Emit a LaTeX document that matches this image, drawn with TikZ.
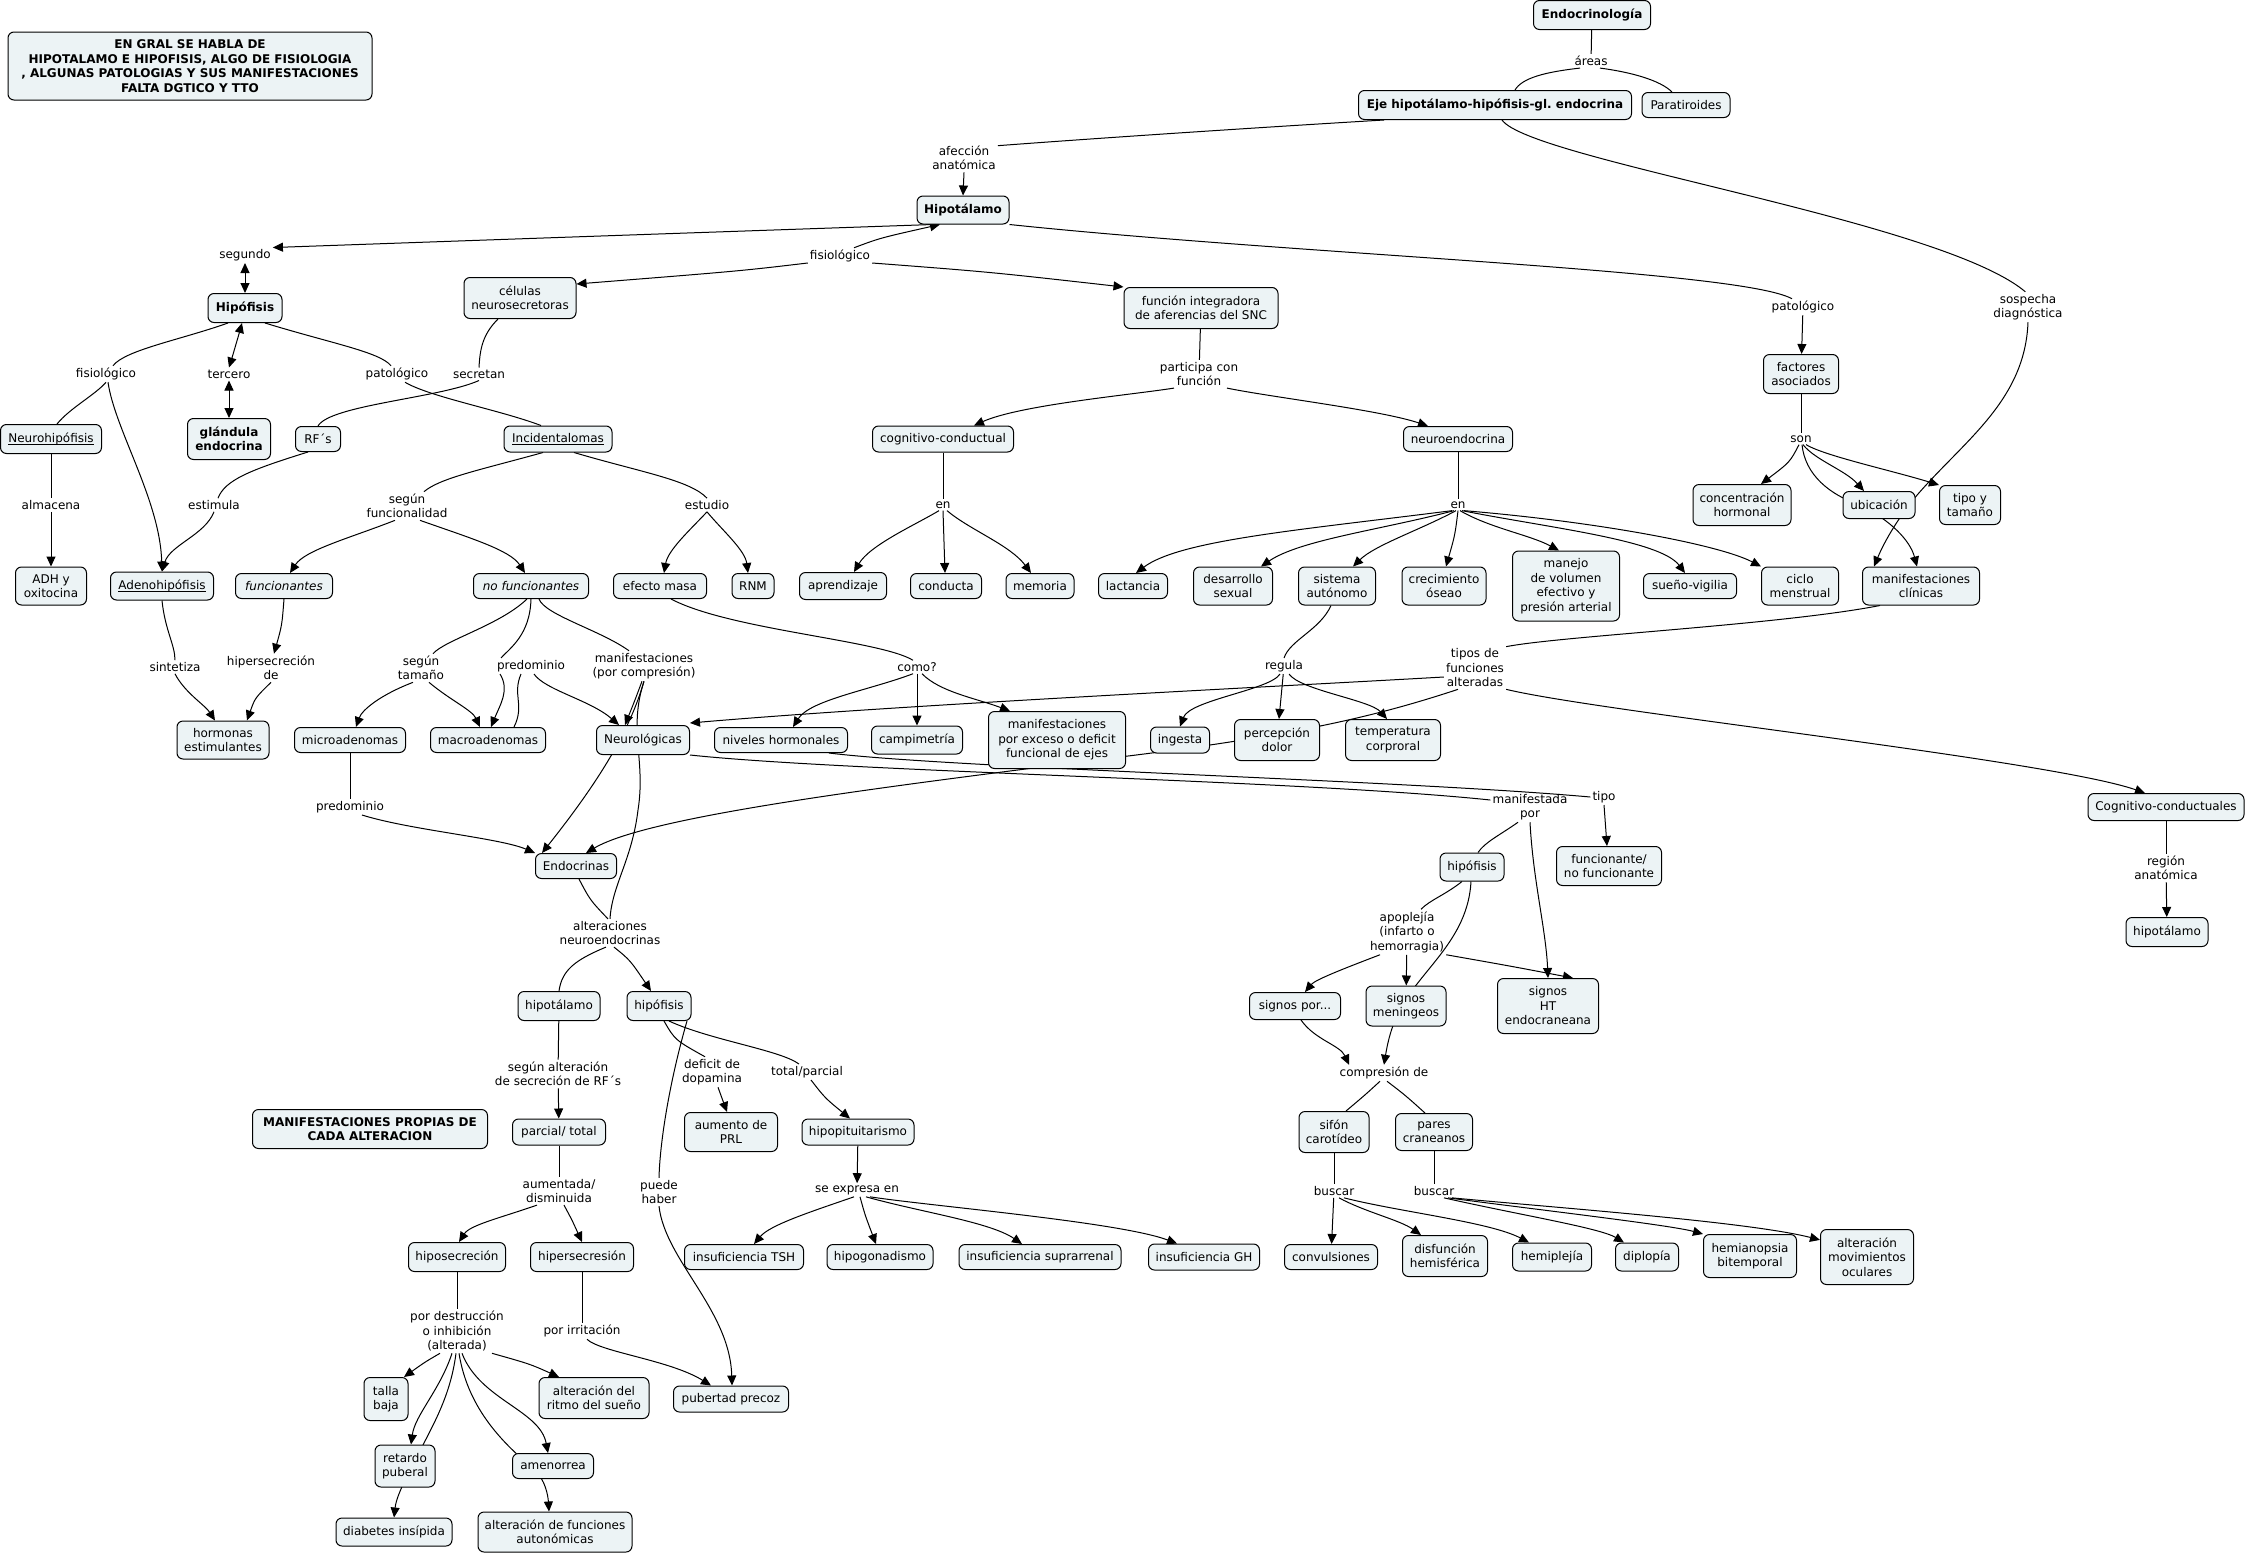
\documentclass[tikz,border=0pt]{standalone}
\usepackage{fontspec}
\setmainfont{DejaVu Sans}
\usetikzlibrary{arrows.meta,backgrounds}
\definecolor{boxfill}{RGB}{236,243,245}
\newcommand\myfs{\fontsize{12}{14.5}\selectfont}
\newcommand\myul[1]{\setbox0=\hbox{#1}\rlap{\rule[-2.2pt]{\wd0}{0.8pt}}\box0}
\frenchspacing
\begin{document}
\begin{tikzpicture}[x=1pt,y=-1pt,
  cn/.style={draw=black, line width=1pt, fill=boxfill, rounded corners=6pt, inner sep=0pt, align=center, font=\myfs},
  cb/.style={cn, font={\myfs\bfseries}},
  lp/.style={inner sep=2pt, align=center, font=\myfs},
  ln/.style={draw=black, line width=1pt},
  arr/.style={ln, -{Triangle[length=10pt,width=9pt]}},
  darr/.style={ln, {Triangle[length=10pt,width=9pt]}-{Triangle[length=10pt,width=9pt]}}]
\useasboundingbox (0,0) rectangle (2247,1553);

% ---------------- concepts ----------------
\node[cb, minimum width=364pt, minimum height=68pt] (title) at (190,66) {EN GRAL SE HABLA DE\\HIPOTALAMO E HIPOFISIS, ALGO DE FISIOLOGIA\\, ALGUNAS PATOLOGIAS Y SUS MANIFESTACIONES\\FALTA DGTICO Y TTO};
\node[cb, minimum width=117pt, minimum height=29pt] (endo) at (1592,15) {Endocrinología};
\node[cb, minimum width=273pt, minimum height=29pt] (eje) at (1495,105) {Eje hipotálamo-hipófisis-gl. endocrina};
\node[cn, minimum width=88pt, minimum height=25pt] (parat) at (1686,105) {Paratiroides};
\node[cb, minimum width=92pt, minimum height=28pt] (hipot) at (963,210) {Hipotálamo};
\node[cb, minimum width=74pt, minimum height=29pt] (hipof) at (245,308) {Hipófisis};
\node[cn, minimum width=112pt, minimum height=41pt] (celulas) at (520,298) {células\\neurosecretoras};
\node[cn, minimum width=154pt, minimum height=41pt] (funcint) at (1201,308) {función integradora\\de aferencias del SNC};
\node[cn, minimum width=75pt, minimum height=39pt] (factores) at (1801,374) {factores\\asociados};
\node[cn, minimum width=101pt, minimum height=29pt] (neurohip) at (51,439) {\myul{Neurohipófisis}};
\node[cb, minimum width=83pt, minimum height=41pt] (glandula) at (229,439) {glándula\\endocrina};
\node[cn, minimum width=45pt, minimum height=25pt] (rfs) at (318,439) {RF´s};
\node[cn, minimum width=108pt, minimum height=26pt] (incid) at (558,439) {\myul{Incidentalomas}};
\node[cn, minimum width=141pt, minimum height=26pt] (cogcond) at (943,439) {cognitivo-conductual};
\node[cn, minimum width=109pt, minimum height=25pt] (neuroend) at (1458,439) {neuroendocrina};
\node[cn, minimum width=98pt, minimum height=41pt] (conc) at (1742,505) {concentración\\hormonal};
\node[cn, minimum width=72pt, minimum height=27pt] (ubic) at (1879,505) {ubicación};
\node[cn, minimum width=61pt, minimum height=39pt] (tipotam) at (1970,505) {tipo y\\tamaño};
\node[cn, minimum width=71pt, minimum height=38pt] (adh) at (51,586) {ADH y\\oxitocina};
\node[cn, minimum width=103pt, minimum height=28pt] (adeno) at (162,586) {\myul{Adenohipófisis}};
\node[cn, minimum width=97pt, minimum height=25pt] (funcs) at (284,586) {\itshape funcionantes};
\node[cn, minimum width=115pt, minimum height=25pt] (nofuncs) at (531,586) {\itshape no funcionantes};
\node[cn, minimum width=93pt, minimum height=25pt] (efecto) at (660,586) {efecto masa};
\node[cn, minimum width=42pt, minimum height=25pt] (rnm) at (753,586) {RNM};
\node[cn, minimum width=87pt, minimum height=27pt] (aprend) at (843,586) {aprendizaje};
\node[cn, minimum width=71pt, minimum height=25pt] (conducta) at (946,586) {conducta};
\node[cn, minimum width=68pt, minimum height=25pt] (memoria) at (1040,586) {memoria};
\node[cn, minimum width=69pt, minimum height=25pt] (lact) at (1133,586) {lactancia};
\node[cn, minimum width=79pt, minimum height=38pt] (desarr) at (1233,586) {desarrollo\\sexual};
\node[cn, minimum width=77pt, minimum height=38pt] (sisaut) at (1337,586) {sistema\\autónomo};
\node[cn, minimum width=84pt, minimum height=38pt] (crec) at (1444,586) {crecimiento\\óseao};
\node[cn, minimum width=107pt, minimum height=70pt] (manejo) at (1566,586) {manejo\\de volumen\\efectivo y\\presión arterial};
\node[cn, minimum width=93pt, minimum height=25pt] (sueno) at (1690,586) {sueño-vigilia};
\node[cn, minimum width=77pt, minimum height=38pt] (ciclo) at (1800,586) {ciclo\\menstrual};
\node[cn, minimum width=117pt, minimum height=38pt] (manclin) at (1921,586) {manifestaciones\\clínicas};
\node[cn, minimum width=92pt, minimum height=38pt] (hormest) at (223,740) {hormonas\\estimulantes};
\node[cn, minimum width=111pt, minimum height=25pt] (micro) at (350,740) {microadenomas};
\node[cn, minimum width=115pt, minimum height=25pt] (macro) at (488,740) {macroadenomas};
\node[cn, minimum width=93pt, minimum height=29pt] (neurol) at (643,740) {Neurológicas};
\node[cn, minimum width=133pt, minimum height=25pt] (niveles) at (781,740) {niveles hormonales};
\node[cn, minimum width=91pt, minimum height=28pt] (campi) at (917,740) {campimetría};
\node[cn, minimum width=137pt, minimum height=57pt] (manexc) at (1057,740) {manifestaciones\\por exceso o deficit\\funcional de ejes};
\node[cn, minimum width=59pt, minimum height=26pt] (ingesta) at (1180,740) {ingesta};
\node[cn, minimum width=85pt, minimum height=41pt] (percep) at (1277,740) {percepción\\dolor};
\node[cn, minimum width=95pt, minimum height=41pt] (temp) at (1393,740) {temperatura\\corproral};
\node[cn, minimum width=156pt, minimum height=27pt] (cogcond2) at (2166,807) {Cognitivo-conductuales};
\node[cn, minimum width=81pt, minimum height=25pt] (endocr) at (576,866) {Endocrinas};
\node[cn, minimum width=64pt, minimum height=28pt] (hipofR) at (1472,867) {hipófisis};
\node[cn, minimum width=105pt, minimum height=39pt] (funcnf) at (1609,866) {funcionante/\\no funcionante};
\node[cn, minimum width=82pt, minimum height=29pt] (hipotR) at (2167,932) {hipotálamo};
\node[cn, minimum width=82pt, minimum height=29pt] (hipotL) at (559,1006) {hipotálamo};
\node[cn, minimum width=64pt, minimum height=29pt] (hipofL) at (659,1006) {hipófisis};
\node[cn, minimum width=91pt, minimum height=27pt] (signospor) at (1295,1006) {signos por...};
\node[cn, minimum width=80pt, minimum height=40pt] (signosmen) at (1406,1006) {signos\\meningeos};
\node[cn, minimum width=101pt, minimum height=55pt] (signosHT) at (1548,1006) {signos\\HT\\endocraneana};
\node[cb, minimum width=235pt, minimum height=39pt] (manprop) at (370,1129) {MANIFESTACIONES PROPIAS DE\\CADA ALTERACION};
\node[cn, minimum width=93pt, minimum height=26pt] (parcial) at (559,1132) {parcial/ total};
\node[cn, minimum width=93pt, minimum height=39pt] (aumPRL) at (731,1132) {aumento de\\PRL};
\node[cn, minimum width=112pt, minimum height=26pt] (hipopit) at (858,1132) {hipopituitarismo};
\node[cn, minimum width=70pt, minimum height=41pt] (sifon) at (1334,1132) {sifón\\carotídeo};
\node[cn, minimum width=77pt, minimum height=37pt] (pares) at (1434,1132) {pares\\craneanos};
\node[cn, minimum width=97pt, minimum height=29pt] (hiposec) at (457,1257) {hiposecreción};
\node[cn, minimum width=103pt, minimum height=29pt] (hipersec) at (582,1257) {hipersecresión};
\node[cn, minimum width=119pt, minimum height=25pt] (insTSH) at (744,1257) {insuficiencia TSH};
\node[cn, minimum width=106pt, minimum height=25pt] (hipogon) at (880,1257) {hipogonadismo};
\node[cn, minimum width=162pt, minimum height=25pt] (insSup) at (1040,1257) {insuficiencia suprarrenal};
\node[cn, minimum width=111pt, minimum height=26pt] (insGH) at (1204,1257) {insuficiencia GH};
\node[cn, minimum width=93pt, minimum height=25pt] (convul) at (1331,1257) {convulsiones};
\node[cn, minimum width=85pt, minimum height=41pt] (disfun) at (1445,1256) {disfunción\\hemisférica};
\node[cn, minimum width=79pt, minimum height=28pt] (hemipl) at (1552,1257) {hemiplejía};
\node[cn, minimum width=63pt, minimum height=28pt] (diplop) at (1647,1257) {diplopía};
\node[cn, minimum width=93pt, minimum height=43pt] (hemian) at (1750,1256) {hemianopsia\\bitemporal};
\node[cn, minimum width=93pt, minimum height=55pt] (altmov) at (1867,1257) {alteración\\movimientos\\oculares};
\node[cn, minimum width=44pt, minimum height=43pt] (talla) at (386,1399) {talla\\baja};
\node[cn, minimum width=110pt, minimum height=41pt] (altritmo) at (594,1398) {alteración del\\ritmo del sueño};
\node[cn, minimum width=115pt, minimum height=26pt] (pubert) at (731,1399) {pubertad precoz};
\node[cn, minimum width=60pt, minimum height=42pt] (retardo) at (405,1466) {retardo\\puberal};
\node[cn, minimum width=81pt, minimum height=25pt] (amen) at (553,1466) {amenorrea};
\node[cn, minimum width=116pt, minimum height=28pt] (diab) at (394,1532) {diabetes insípida};
\node[cn, minimum width=154pt, minimum height=40pt] (altfun) at (555,1532) {alteración de funciones\\autonómicas};

% ---------------- linking phrases ----------------
\node[lp] (areas) at (1591,61) {áreas};
\node[lp] (afecc) at (964,158) {afección\\anatómica};
\node[lp] (segundo) at (245,255) {segundo};
\node[lp] (fisioM) at (840,256) {fisiológico};
\node[lp] (patolR) at (1803,307) {patológico};
\node[lp] (sospecha) at (2028,307) {sospecha\\diagnóstica};
\node[lp] (fisioL) at (106,374) {fisiológico};
\node[lp] (tercero) at (229,374) {tercero};
\node[lp] (patolL) at (397,374) {patológico};
\node[lp] (secretan) at (479,374) {secretan};
\node[lp] (particip) at (1199,374) {participa con\\función};
\node[lp] (son) at (1801,439) {son};
\node[lp] (almacena) at (51,505) {almacena};
\node[lp] (estimula) at (214,505) {estimula};
\node[lp] (segfunc) at (407,506) {según\\funcionalidad};
\node[lp] (estudio) at (707,505) {estudio};
\node[lp] (enC) at (943,505) {en};
\node[lp] (enN) at (1458,505) {en};
\node[lp] (sintetiza) at (175,667) {sintetiza};
\node[lp] (hiperde) at (271,668) {hipersecreción\\de};
\node[lp] (segtam) at (421,668) {según\\tamaño};
\node[lp] (predom1) at (531,666) {predominio};
\node[lp] (manifcomp) at (644,666) {manifestaciones\\(por compresión)};
\node[lp] (como) at (917,667) {como?};
\node[lp] (regula) at (1284,666) {regula};
\node[lp] (tipos) at (1475,668) {tipos de\\funciones\\alteradas};
\node[lp] (predom2) at (350,807) {predominio};
\node[lp] (manifpor) at (1530,807) {manifestada\\por};
\node[lp] (tipo) at (1604,797) {tipo};
\node[lp] (region) at (2166,868) {región\\anatómica};
\node[lp] (altneuro) at (610,933) {alteraciones\\neuroendocrinas};
\node[lp] (apople) at (1407,932) {apoplejía\\(infarto o\\hemorragia)};
\node[lp] (segalt) at (558,1074) {según alteración\\de secreción de RF´s};
\node[lp] (deficit) at (712,1072) {deficit de\\dopamina};
\node[lp] (totpar) at (807,1072) {total/parcial};
\node[lp] (compres) at (1384,1073) {compresión de};
\node[lp] (aumdis) at (559,1191) {aumentada/\\disminuida};
\node[lp] (puede) at (659,1192) {puede\\haber};
\node[lp] (seexp) at (857,1190) {se expresa en};
\node[lp] (buscL) at (1334,1191) {buscar};
\node[lp] (buscR) at (1434,1191) {buscar};
\node[lp] (pordest) at (457,1331) {por destrucción\\o inhibición\\(alterada)};
\node[lp] (porirr) at (582,1331) {por irritación};

% ---------------- connectors ----------------
\begin{scope}[on background layer]
\fill[white] (0,0) rectangle (2247,1553);
% top
\draw[ln] (endo) -- (areas);
\draw[ln] ([xshift=-11pt]areas.south) .. controls (1545,72) and (1522,78) .. ([xshift=20pt]eje.north);
\draw[ln] ([xshift=9pt]areas.south) .. controls (1630,72) and (1660,80) .. ([xshift=-14pt]parat.north);
\draw[ln] ([xshift=26pt]eje.south west) .. controls (1250,128) and (1100,138) .. (afecc.20);
\draw[arr] (afecc.south) -- (hipot.north);
\draw[ln] ([xshift=7pt]eje.south) .. controls (1530,160) and (1940,220) .. (sospecha.100);
\draw[arr] (sospecha.south) .. controls (2025,400) and (1965,440) .. (1918,494) .. controls (1900,515) and (1885,540) .. ([xshift=12pt]manclin.north west);
\draw[arr] ([xshift=-30pt]hipot.south) .. controls (600,236) .. (segundo.15);
\draw[arr] ([xshift=14pt]fisioM.north) .. controls (880,238) .. ([xshift=-23pt]hipot.south);
\draw[arr] ([yshift=-7pt]fisioM.west) .. controls (740,271) .. ([yshift=14pt]celulas.east);
\draw[arr] ([yshift=-7pt]fisioM.east) .. controls (990,272) .. (funcint.north west);
\draw[ln] (hipot.south east) .. controls (1300,255) and (1740,270) .. ([xshift=-11pt]patolR.north);
\draw[arr] (patolR) -- (factores);
\draw[ln] (factores) -- (son);
\draw[arr] ([xshift=-2pt]son.south) .. controls (1790,462) .. ([xshift=19pt]conc.north);
\draw[arr] ([xshift=2pt]son.south) .. controls (1815,460) and (1845,470) .. ([xshift=-15pt]ubic.north);
\draw[arr] ([xshift=5pt]son.south) .. controls (1825,456) and (1890,470) .. (tipotam.north west);
\draw[arr] ([xshift=1pt]son.south) .. controls (1805,475) and (1830,495) .. (1860,505) .. controls (1890,520) and (1910,540) .. ([xshift=-4pt]manclin.north);
% hipofisis block
\draw[darr] (segundo) -- (hipof);
\draw[darr] ([xshift=-3pt]hipof.south) .. controls (236,345) .. (tercero.north);
\draw[darr] (tercero) -- (glandula);
\draw[ln] ([xshift=-17pt]hipof.south) .. controls (180,340) and (125,350) .. ([xshift=7pt]fisioL.north);
\draw[ln] ([xshift=20pt]hipof.south) .. controls (330,343) and (380,352) .. ([xshift=-6pt]patolL.north);
\draw[ln] (fisioL.south) .. controls (95,395) and (70,408) .. ([xshift=6pt]neurohip.north);
\draw[arr] ([xshift=2pt]fisioL.south) .. controls (115,430) and (160,500) .. (adeno.north);
\draw[ln] ([xshift=8pt]patolL.south) .. controls (430,397) and (500,410) .. ([xshift=-17pt]incid.north);
\draw[ln] ([xshift=-22pt]celulas.south) .. controls (482,335) and (480,350) .. (secretan.north);
\draw[ln] (secretan.south) .. controls (440,398) and (330,405) .. (rfs.north);
\draw[ln] ([xshift=-10pt]rfs.south) .. controls (250,470) and (225,480) .. ([xshift=4pt]estimula.north);
\draw[arr] (estimula.south) .. controls (205,535) and (170,545) .. (adeno.north);
\draw[ln] (neurohip) -- (almacena);
\draw[arr] (almacena) -- (adh);
\draw[ln] ([xshift=-15pt]incid.south) .. controls (480,470) and (440,478) .. ([xshift=17pt]segfunc.north);
\draw[ln] ([xshift=16pt]incid.south) .. controls (640,472) and (690,480) .. (estudio.north);
\draw[arr] ([xshift=-12pt]segfunc.south) .. controls (350,538) and (305,550) .. ([xshift=6pt]funcs.north);
\draw[arr] ([xshift=13pt]segfunc.south) .. controls (470,538) and (510,550) .. ([xshift=-6pt]nofuncs.north);
\draw[arr] (estudio.south) .. controls (690,530) and (668,550) .. ([xshift=4pt]efecto.north);
\draw[arr] (estudio.south) .. controls (722,530) and (745,550) .. ([xshift=-5pt]rnm.north);
\draw[ln] (adeno.south) .. controls (165,630) and (175,645) .. (sintetiza.north);
\draw[arr] (sintetiza.south) .. controls (185,693) and (205,705) .. ([xshift=-8pt]hormest.north);
\draw[arr] (funcs.south) .. controls (282,625) .. ([xshift=3pt]hiperde.north);
\draw[arr] (hiperde.south) .. controls (255,698) .. ([xshift=24pt]hormest.north);
\draw[ln] ([xshift=-4pt]nofuncs.south) .. controls (500,625) and (445,640) .. ([xshift=12pt]segtam.north);
\draw[arr] ([xshift=-8pt]segtam.south) .. controls (380,695) and (362,710) .. ([xshift=6pt]micro.north);
\draw[arr] ([xshift=8pt]segtam.south) .. controls (450,700) and (472,710) .. ([xshift=-8pt]macro.north);
\draw[ln] (nofuncs.south) .. controls (530,635) and (510,648) .. ([xshift=-30pt]predom1.north);
\draw[arr] ([xshift=-31pt]predom1.south) .. controls (510,690) and (500,705) .. ([xshift=3pt]macro.north);
\draw[ln] ([xshift=-10pt]predom1.south) .. controls (512,695) and (525,705) .. ([xshift=26pt]macro.north);
\draw[arr] ([xshift=3pt]predom1.south) .. controls (545,690) and (590,700) .. ([xshift=-24pt]neurol.north);
\draw[ln] ([xshift=8pt]nofuncs.south) .. controls (545,615) and (600,630) .. ([xshift=-15pt]manifcomp.north);
\draw[arr] ([xshift=-2pt]manifcomp.south) .. controls (635,700) .. ([xshift=-18pt]neurol.north);
\draw[ln] (manifcomp.south) .. controls (628,730) and (646,760) .. (638,810) .. controls (632,860) and (612,885) .. (altneuro.north);
\draw[arr] (manifcomp.south) .. controls (630,730) and (600,780) .. ([xshift=7pt]endocr.north west);
\draw[ln] (micro) -- (predom2);
\draw[arr] ([xshift=12pt]predom2.south) .. controls (410,830) and (500,838) .. (endocr.north west);
% efecto masa / como
\draw[ln] ([xshift=11pt]efecto.south) .. controls (730,630) and (880,640) .. ([xshift=-4pt]como.north);
\draw[arr] ([xshift=-4pt]como.south) .. controls (870,690) and (810,700) .. ([xshift=12pt]niveles.north);
\draw[arr] (como) -- (campi);
\draw[arr] ([xshift=5pt]como.south) .. controls (940,692) and (975,698) .. ([xshift=-47pt]manexc.north);
\draw[ln] (neurol.south east) .. controls (850,772) and (1300,780) .. (manifpor.170);
\draw[ln] ([xshift=48pt]niveles.south) .. controls (950,768) and (1400,780) .. (tipo.west);
\draw[arr] (tipo.south) -- ([xshift=-2pt]funcnf.north);
% funcion integradora
\draw[ln] (funcint) -- (particip);
\draw[arr] ([xshift=-25pt]particip.south) .. controls (1130,395) and (1020,405) .. ([xshift=31pt]cogcond.north);
\draw[arr] ([xshift=28pt]particip.south) .. controls (1270,397) and (1380,410) .. ([xshift=-30pt]neuroend.north);
\draw[ln] (cogcond) -- (enC);
\draw[ln] (neuroend) -- (enN);
\draw[arr] ([xshift=-4pt]enC.south) .. controls (915,525) and (870,545) .. ([xshift=11pt]aprend.north);
\draw[arr] (enC.south) -- ([xshift=-1pt]conducta.north);
\draw[arr] ([xshift=4pt]enC.south) .. controls (970,530) and (1010,545) .. ([xshift=-9pt]memoria.north);
\draw[arr] ([xshift=-6pt]enN.south) .. controls (1300,530) and (1180,540) .. ([xshift=3pt]lact.north);
\draw[arr] ([xshift=-4pt]enN.south) .. controls (1380,530) and (1300,540) .. ([xshift=28pt]desarr.north);
\draw[arr] ([xshift=-2pt]enN.south) .. controls (1420,530) and (1375,545) .. ([xshift=16pt]sisaut.north);
\draw[arr] (enN.south) .. controls (1455,535) .. ([xshift=2pt]crec.north);
\draw[arr] ([xshift=2pt]enN.south) .. controls (1490,528) and (1530,535) .. ([xshift=-7pt]manejo.north);
\draw[arr] ([xshift=4pt]enN.south) .. controls (1550,528) and (1660,540) .. ([xshift=-5pt]sueno.north);
\draw[arr] ([xshift=6pt]enN.south) .. controls (1600,522) and (1720,545) .. (ciclo.north west);
\draw[ln] ([xshift=-6pt]sisaut.south) .. controls (1320,630) and (1290,640) .. (regula.north);
\draw[arr] ([xshift=-4pt]regula.south) .. controls (1270,690) and (1190,700) .. (ingesta.north);
\draw[arr] (regula) -- (percep);
\draw[arr] ([xshift=5pt]regula.south) .. controls (1300,690) and (1370,700) .. ([xshift=-6pt]temp.north);
% tipos de funciones
\draw[ln] ([xshift=-41pt]manclin.south) .. controls (1780,625) and (1560,636) .. (tipos.north east);
\draw[arr] ([yshift=-9pt]tipos.west) .. controls (1250,688) and (900,705) .. ([yshift=17pt]neurol.east);
\draw[arr] ([xshift=-17pt]tipos.south) .. controls (1380,715) and (1300,735) .. (1120,757) .. controls (900,785) and (650,815) .. ([xshift=10pt]endocr.north);
\draw[arr] (tipos.south east) .. controls (1600,712) and (2050,760) .. ([xshift=-21pt]cogcond2.north);
\draw[ln] (cogcond2) -- (region);
\draw[arr] (region) -- (hipotR);
% manifestada por
\draw[ln] ([xshift=-12pt]manifpor.south) .. controls (1500,835) and (1485,842) .. ([xshift=6pt]hipofR.north);
\draw[arr] (manifpor.south) .. controls (1533,880) and (1546,930) .. (signosHT.north);
\draw[ln] ([xshift=-10pt]hipofR.south) .. controls (1445,895) and (1430,900) .. ([xshift=14pt]apople.north);
\draw[arr] ([xshift=-1pt]hipofR.south) .. controls (1468,940) and (1420,970) .. (1400,1010) .. controls (1392,1025) and (1388,1040) .. (compres.north);
\draw[arr] ([xshift=-27pt]apople.south) .. controls (1340,970) and (1315,980) .. ([xshift=10pt]signospor.north);
\draw[arr] (apople) -- (signosmen);
\draw[arr] (apople.south east) .. controls (1510,966) .. ([xshift=25pt]signosHT.north);
\draw[arr] ([xshift=6pt]signospor.south) .. controls (1315,1040) and (1340,1045) .. ([xshift=-35pt]compres.north);
\draw[ln] ([xshift=-4pt]compres.south) .. controls (1365,1095) .. ([xshift=12pt]sifon.north);
\draw[ln] ([xshift=3pt]compres.south) .. controls (1405,1095) .. ([xshift=-9pt]pares.north);
\draw[ln] (sifon) -- (buscL);
\draw[ln] (pares) -- (buscR);
\draw[arr] (buscL) -- (convul);
\draw[arr] ([xshift=5pt]buscL.south) .. controls (1365,1212) and (1400,1220) .. ([xshift=-24pt]disfun.north);
\draw[arr] ([xshift=10pt]buscL.south) .. controls (1400,1212) and (1490,1222) .. ([xshift=-23pt]hemipl.north);
\draw[arr] ([xshift=10pt]buscR.south) .. controls (1520,1215) and (1600,1228) .. ([xshift=-23pt]diplop.north);
\draw[arr] ([xshift=14pt]buscR.south) .. controls (1540,1210) and (1670,1225) .. (hemian.north west);
\draw[arr] ([xshift=18pt]buscR.south) .. controls (1560,1208) and (1750,1222) .. (altmov.160);
% alteraciones neuroendocrinas
\draw[ln] ([xshift=3pt]endocr.south) .. controls (590,900) .. ([xshift=-2pt]altneuro.north);
\draw[ln] ([xshift=-4pt]altneuro.south) .. controls (575,960) and (562,970) .. (hipotL.north);
\draw[arr] ([xshift=4pt]altneuro.south) .. controls (630,960) .. ([xshift=-8pt]hipofL.north);
\draw[ln] (hipotL) -- (segalt);
\draw[arr] (segalt) -- (parcial);
\draw[ln] (parcial) -- (aumdis);
\draw[arr] ([xshift=-22pt]aumdis.south) .. controls (500,1218) and (470,1225) .. ([xshift=2pt]hiposec.north);
\draw[arr] ([xshift=5pt]aumdis.south) .. controls (572,1220) .. (hipersec.north);
\draw[ln] (hiposec) -- (pordest);
\draw[ln] (hipersec) -- (porirr);
\draw[arr] ([xshift=-17pt]pordest.south) .. controls (425,1362) .. ([xshift=18pt]talla.north);
\draw[arr] ([xshift=35pt]pordest.south) .. controls (530,1364) .. ([xshift=-35pt]altritmo.north);
\draw[arr] ([xshift=-5pt]pordest.south) .. controls (440,1390) and (415,1415) .. ([xshift=6pt]retardo.north);
\draw[arr] ([xshift=-1pt]pordest.south) .. controls (450,1400) and (430,1430) .. (410,1470) .. controls (400,1490) and (396,1500) .. (diab.north);
\draw[arr] ([xshift=5pt]pordest.south) .. controls (480,1400) and (540,1410) .. ([xshift=-5pt]amen.north);
\draw[arr] ([xshift=2pt]pordest.south) .. controls (468,1410) and (505,1445) .. (535,1470) .. controls (545,1480) and (548,1495) .. ([xshift=-6pt]altfun.north);
\draw[arr] ([xshift=5pt]porirr.south) .. controls (600,1352) and (670,1360) .. ([xshift=-20pt]pubert.north);
\draw[ln] ([xshift=5pt]hipofL.south) .. controls (675,1040) .. ([xshift=-7pt]deficit.north);
\draw[arr] ([xshift=6pt]deficit.south) -- ([xshift=-4pt]aumPRL.north);
\draw[ln] ([xshift=10pt]hipofL.south) .. controls (710,1040) and (780,1050) .. ([xshift=-8pt]totpar.north);
\draw[arr] ([xshift=4pt]totpar.south) .. controls (825,1098) .. ([xshift=-8pt]hipopit.north);
\draw[ln] ([xshift=28pt]hipofL.south) .. controls (670,1080) and (660,1140) .. (puede.north);
\draw[arr] (puede.south) .. controls (665,1260) and (730,1310) .. ([xshift=1pt]pubert.north);
\draw[arr] (hipopit) -- (seexp);
\draw[arr] ([xshift=-3pt]seexp.south) .. controls (810,1212) and (770,1225) .. ([xshift=10pt]insTSH.north);
\draw[arr] ([xshift=3pt]seexp.south) .. controls (865,1215) .. ([xshift=-4pt]hipogon.north);
\draw[arr] ([xshift=9pt]seexp.south) .. controls (920,1212) and (990,1222) .. ([xshift=-18pt]insSup.north);
\draw[arr] ([xshift=13pt]seexp.south) .. controls (930,1206) and (1120,1222) .. ([xshift=-27pt]insGH.north);
\end{scope}
\end{tikzpicture}
\end{document}
